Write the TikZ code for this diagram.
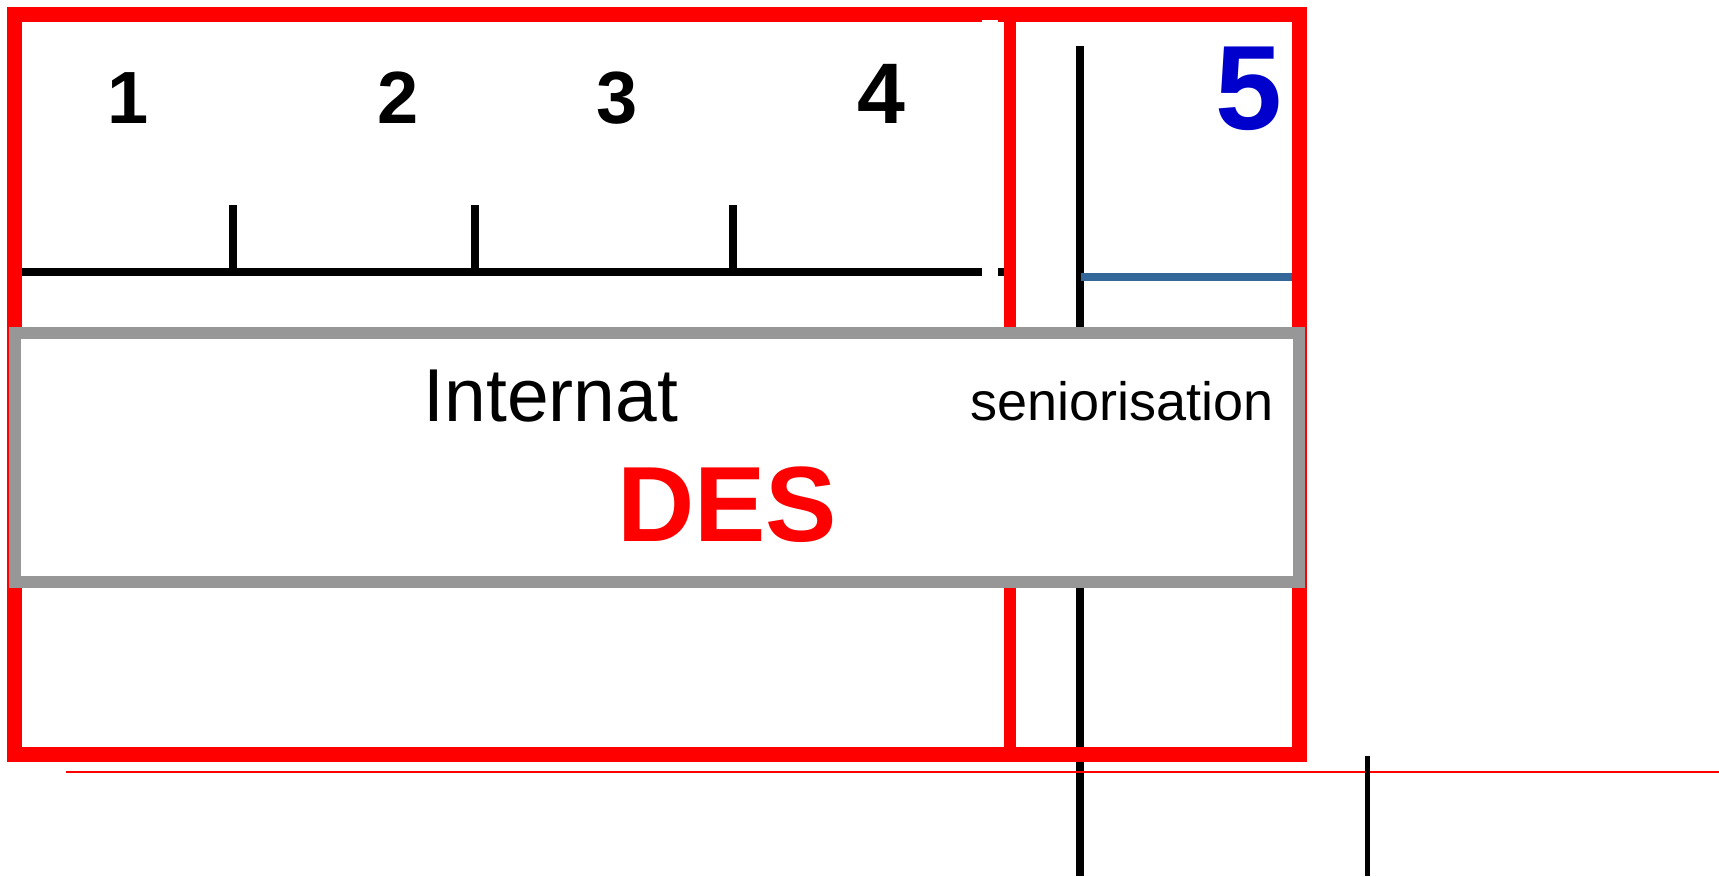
\documentclass[tikz,border=0pt]{standalone}
\usepackage{fontspec}
\setmainfont{Liberation Sans}
\definecolor{frred}{HTML}{FF0000}
\definecolor{boxgray}{HTML}{979797}
\definecolor{fiveblue}{HTML}{0000CC}
\definecolor{steel}{HTML}{336699}
\begin{document}
\begin{tikzpicture}[x=1pt,y=-1pt,
  redframe/.style={draw=frred,line width=15pt,line join=miter},
  axisline/.style={draw=black,line width=8pt},
  ticklines/.style={draw=black,line width=8pt},
  graybox/.style={draw=boxgray,fill=white,line width=12pt},
  digit/.style={inner sep=0pt,anchor=base,font=\fontsize{74}{74}\selectfont\bfseries},
  lbl/.style={inner sep=0pt,anchor=base}]
\useasboundingbox (0,0) rectangle (1719,876);
% axis and ticks
\coordinate (axL) at (22,271.7);
\coordinate (axR) at (981.7,271.7);
\draw[axisline] (axL) -- (axR);
\coordinate (axS1) at (997.7,271.7);
\coordinate (axS2) at (1006,271.7);
\draw[axisline] (axS1) -- (axS2);
\foreach \x/\n in {232.5/a,474.8/b,732.5/c}{
  \coordinate (t\n top) at (\x,205);
  \coordinate (t\n bot) at (\x,271.7);
  \draw[ticklines] (t\n top) -- (t\n bot);
}
% black vertical line in zone 5
\coordinate (vTop) at (1080,46);
\coordinate (vBot) at (1080,876);
\draw[line width=8pt] (vTop) -- (vBot);
% steel blue line
\coordinate (bL) at (1081,277);
\coordinate (bR) at (1292,277);
\draw[steel,line width=8pt] (bL) -- (bR);
% red frames
\coordinate (fTL) at (14.5,14.7);
\coordinate (fBR) at (1299,754);
\draw[redframe] (fTL) rectangle (fBR);
\coordinate (mTop) at (1010,14.7);
\coordinate (mBot) at (1010,754);
\draw[frred,line width=12pt] (mTop) -- (mBot);
% white strip
\coordinate (wA) at (981.7,20);
\coordinate (wB) at (997.7,327);
\fill[white] (wA) rectangle (wB);
% gray box
\coordinate (gTL) at (15,332.5);
\coordinate (gBR) at (1299,581.5);
\draw[graybox] (gTL) rectangle (gBR);
% texts
\node[digit] (n1) at (128,123.5) {1};
\node[digit] (n2) at (398.5,123.5) {2};
\node[digit] (n3) at (617,123.5) {3};
\node[digit,font=\fontsize{86}{86}\selectfont\bfseries] (n4) at (881,123.5) {4};
\node[lbl,font=\fontsize{120}{120}\selectfont\bfseries,text=fiveblue] (n5) at (1248.5,129.5) {5};
\node[lbl,font=\fontsize{75}{75}\selectfont] (internat) at (551,421) {Internat};
\node[lbl,anchor=base east,font=\fontsize{54}{54}\selectfont] (senior) at (1274,420.7) {seniorisation};
\node[lbl,font=\fontsize{107}{107}\selectfont\bfseries,text=frred] (des) at (727,541.7) {DES};
% bottom lines
\coordinate (rlL) at (66,772);
\coordinate (rlR) at (1719,772);
\draw[frred,line width=1.6pt] (rlL) -- (rlR);
\coordinate (kTop) at (1367.5,755.5);
\coordinate (kBot) at (1367.5,876);
\draw[line width=5.5pt] (kTop) -- (kBot);
\end{tikzpicture}
\end{document}
